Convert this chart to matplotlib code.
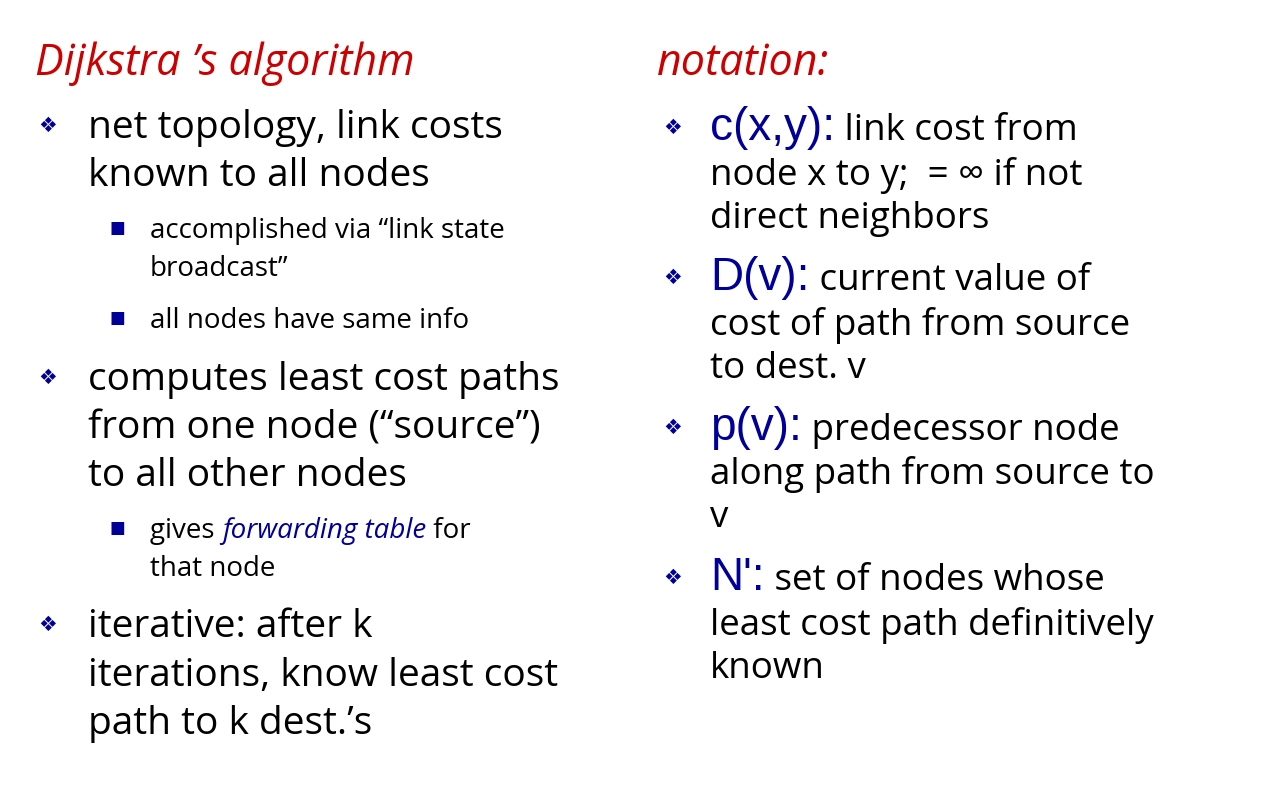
import matplotlib
matplotlib.use("Agg")
import matplotlib.pyplot as plt

RED = "#cc0000"
BLUE = "#000099"
BLACK = "#000000"
FONT = "Open Sans"

# titles: (text, x, baseline)
titles = [("Dijkstra ’s algorithm", 35, 75), ("notation:", 657, 75)]

# left column: (level, baseline, runs) ; runs = list of (text, style)
# level 1 = bullet, 0 = continuation, 2 = sub bullet, 3 = sub continuation
left_lines = [
    (1, 138, [("net topology, link costs", "n")]),
    (0, 186, [("known to all nodes", "n")]),
    (2, 238, [("accomplished via “link state", "n")]),
    (3, 276, [("broadcast”", "n")]),
    (2, 328, [("all nodes have same info", "n")]),
    (1, 390, [("computes least cost paths", "n")]),
    (0, 438, [("from one node (“source”)", "n")]),
    (0, 486, [("to all other nodes", "n")]),
    (2, 538, [("gives ", "n"), ("forwarding table", "i"), (" for", "n")]),
    (3, 576, [("that node", "n")]),
    (1, 637, [("iterative: after k", "n")]),
    (0, 686, [("iterations, know least cost", "n")]),
    (0, 734, [("path to k dest.’s", "n")]),
]

right_lines = [
    (1, 140, [("c(x,y):", "b"), (" link cost from", "n")]),
    (0, 185, [("node x to y;  = ∞ if not", "n")]),
    (0, 228, [("direct neighbors", "n")]),
    (1, 290, [("D(v):", "b"), (" current value of", "n")]),
    (0, 335, [("cost of path from source", "n")]),
    (0, 378, [("to dest. v", "n")]),
    (1, 440, [("p(v):", "b"), (" predecessor node", "n")]),
    (0, 484, [("along path from source to", "n")]),
    (0, 527, [("v", "n")]),
    (1, 590, [("N':", "b"), (" set of nodes whose", "n")]),
    (0, 635, [("least cost path definitively", "n")]),
    (0, 678, [("known", "n")]),
]

fig = plt.figure(figsize=(12.62, 7.98), dpi=100)
ax = fig.add_axes([0, 0, 1, 1])
ax.set_xlim(0, 1262)
ax.set_ylim(798, 0)
ax.axis("off")
fig.canvas.draw()
renderer = fig.canvas.get_renderer()


def draw_runs(x, y, runs, size, big):
    for txt, st in runs:
        kw = dict(fontsize=size, color=BLACK, family=[FONT, "DejaVu Sans"])
        if st == "i":
            kw.update(style="italic", color=BLUE)
        if st == "b":
            kw.update(fontsize=big, color=BLUE, family=["Liberation Sans", "DejaVu Sans"])
        t = ax.text(x, y, txt, va="baseline", ha="left", **kw)
        bb = t.get_window_extent(renderer)
        x += bb.width


def draw_column(lines, bx, tx, sx, stx, size, sub, big):
    for level, y, runs in lines:
        if level == 2:
            ax.text(sx, y - 10, "■", fontsize=12, color=BLUE, ha="center", va="center",
                    family="DejaVu Sans")
            draw_runs(stx, y, runs, sub, big)
        elif level == 3:
            draw_runs(stx, y, runs, sub, big)
        else:
            if level == 1:
                ax.text(bx, y - 12, "❖", fontsize=15, color=BLUE, ha="center", va="center",
                        family="DejaVu Sans")
            draw_runs(tx, y, runs, size, big)


for txt, x, y in titles:
    ax.text(x, y, txt, fontsize=31, color=RED, style="italic", va="baseline",
            family=[FONT, "DejaVu Sans"])

draw_column(left_lines, 48, 88, 117, 150, 28, 20, 28)
draw_column(right_lines, 673, 710, 0, 0, 26.5, 20, 33)

fig.savefig("out.png", dpi=100)
